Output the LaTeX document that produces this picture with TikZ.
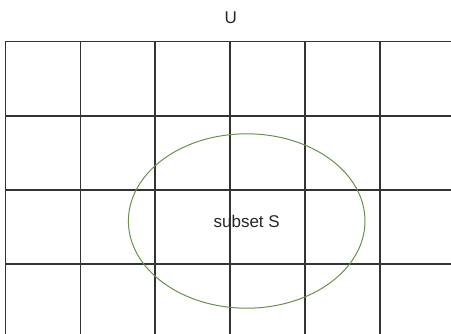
\documentclass[tikz,border=0pt]{standalone}
\usepackage{fontspec}
\setmainfont{Liberation Sans}
\usetikzlibrary{shapes.geometric}
\definecolor{gridc}{HTML}{333333}
\definecolor{ellc}{HTML}{6A8F4E}
\begin{document}
\begin{tikzpicture}[x=1pt,y=-1pt,
  gridline/.style={draw=gridc,line width=1.1pt},
  setell/.style={draw=ellc,line width=1pt,ellipse,minimum width=236.6pt,minimum height=174.4pt,inner sep=0pt},
  lbl/.style={font=\fontsize{17}{20}\selectfont,text=black!85}]
\useasboundingbox (0,0) rectangle (451,334);
% grid
\foreach \x in {5.5,80.5,155,230,305,380} {\draw[gridline] (\x,41.5) -- (\x,334);}
\foreach \y in {41.5,116,190,264} {\draw[gridline] (5.5,\y) -- (451,\y);}
\node[setell] (S) at (246.7,221) {};
\node[lbl] (slabel) at (S.center) {subset S};
\node[lbl] (U) at (230.7,18) {U};
\end{tikzpicture}
\end{document}
